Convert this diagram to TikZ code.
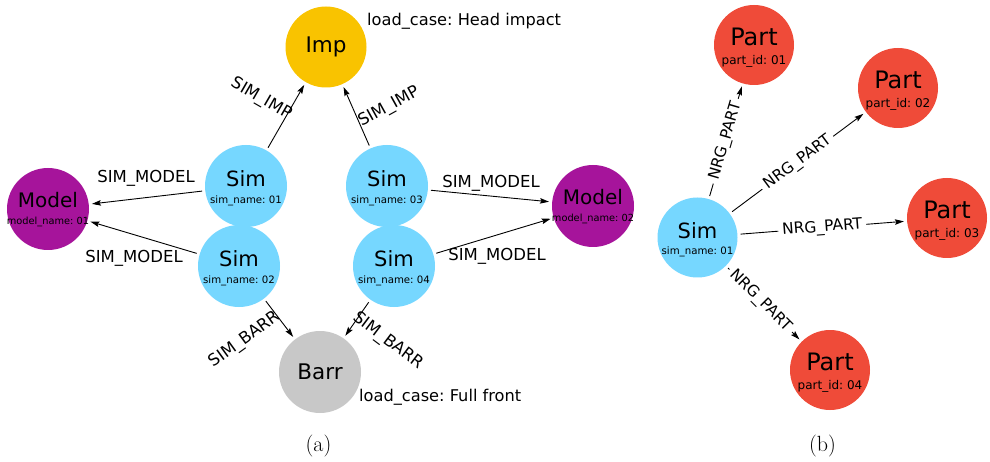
\documentclass[tikz,border=0pt]{standalone}
\usepackage{fontspec}
\newfontfamily\dvsans{DejaVu Sans}
\usetikzlibrary{arrows.meta}
\frenchspacing

\definecolor{impcol}{HTML}{F9C300}
\definecolor{simcol}{HTML}{76D7FF}
\definecolor{modelcol}{HTML}{A6149B}
\definecolor{barrcol}{HTML}{C8C8C8}
\definecolor{partcol}{HTML}{EF4B39}

\newcommand{\fsz}[1]{\dvsans\fontsize{#1}{#1}\selectfont}

\tikzset{
  ent/.style={circle, minimum size=82pt, inner sep=0pt, draw=none},
  bigtxt/.style={font=\fsz{21}, inner sep=0pt, text=black},
  subtxt/.style={font=\fsz{10.2}, inner sep=0pt, text=black},
  simnode/.style={ent, fill=simcol,
    label={[bigtxt, yshift=7pt]center:Sim},
    label={[subtxt, yshift=-14.5pt]center:sim\_name: #1}},
  modelnode/.style={ent, fill=modelcol,
    label={[bigtxt, font=\fsz{20}, yshift=8.5pt]center:Model},
    label={[subtxt, font=\fsz{9.8}, yshift=-12.5pt]center:model\_name: #1}},
  partnode/.style={ent, minimum size=80pt, fill=partcol,
    label={[bigtxt, font=\fsz{24}, yshift=8pt]center:Part},
    label={[subtxt, font=\fsz{12}, yshift=-16pt]center:part\_id: #1}},
  loadnode/.style={ent, font=\fsz{21.5}},
  arr/.style={-{Stealth[length=9pt, width=5.5pt, inset=1.5pt]}, line width=0.9pt,
    shorten <=3pt, shorten >=3pt},
  elbl/.style={font=\fsz{16.5}, inner sep=0pt},
  nrg/.style={font=\fsz{15.5}, fill=white, inner xsep=4pt, inner ysep=2pt},
  anno/.style={font=\fsz{16.2}, inner sep=0pt},
  captext/.style={font=\fontsize{22}{22}\selectfont, inner sep=0pt}
}

\begin{document}
\begin{tikzpicture}[x=1pt, y=-1pt]
\useasboundingbox[fill=white] (0,0) rectangle (990,462);

% ---- (a) simulation graph ----
\node[loadnode, fill=impcol, minimum size=81pt] (imp) at (326,47) {Imp};
\node[loadnode, fill=barrcol] (barr) at (320,372) {Barr};
\node[simnode=01] (s1) at (246,186) {};
\node[simnode=02] (s2) at (239,266) {};
\node[simnode=03] (s3) at (387,186) {};
\node[simnode=04] (s4) at (394,266) {};
\node[modelnode=01] (m1) at (48,209) {};
\node[modelnode=02] (m2) at (593,206) {};

\draw[arr] (s1) -- (imp);
\draw[arr] (s3) -- (imp);
\draw[arr] (s1) -- (m1);
\draw[arr] (s2) -- (m1);
\draw[arr] (s3) -- (m2);
\draw[arr] (s4) -- (m2);
\draw[arr] (s2) -- (barr);
\draw[arr] (s4) -- (barr);

\node[elbl] (l1) at (146,178) {SIM\_MODEL};
\node[elbl] (l2) at (134,258) {SIM\_MODEL};
\node[elbl] (l3) at (491,183) {SIM\_MODEL};
\node[elbl] (l4) at (497,256) {SIM\_MODEL};
\node[elbl, rotate=-30] (l5) at (261,99) {SIM\_IMP};
\node[elbl, rotate=29] (l6) at (389,107) {SIM\_IMP};
\node[elbl, rotate=36] (l7) at (245,340) {SIM\_BARR};
\node[elbl, rotate=-37] (l8) at (388,341) {SIM\_BARR};

\node[anno, anchor=base west] (lc1) at (367,26) {load\_case: Head impact};
\node[anno, anchor=base west] (lc2) at (359,401) {load\_case: Full front};

\node[captext] (capa) at (318.5,446) {(a)};

% ---- (b) part graph ----
\node[simnode=01, minimum size=80pt] (sb) at (697.5,237.5) {};
\node[partnode=01] (p1) at (754,45) {};
\node[partnode=02] (p2) at (898,88) {};
\node[partnode=03] (p3) at (947,218) {};
\node[partnode=04] (p4) at (830,370) {};

\draw[arr] (sb) -- (p1) node[midway, sloped, nrg] {NRG\_PART};
\draw[arr] (sb) -- (p2) node[midway, sloped, nrg] {NRG\_PART};
\draw[arr] (sb) -- (p3) node[midway, sloped, nrg] {NRG\_PART};
\draw[arr] (sb) -- (p4) node[pos=0.46, sloped, nrg] {NRG\_PART};

\node[captext] (capb) at (822.5,446) {(b)};
\end{tikzpicture}
\end{document}
